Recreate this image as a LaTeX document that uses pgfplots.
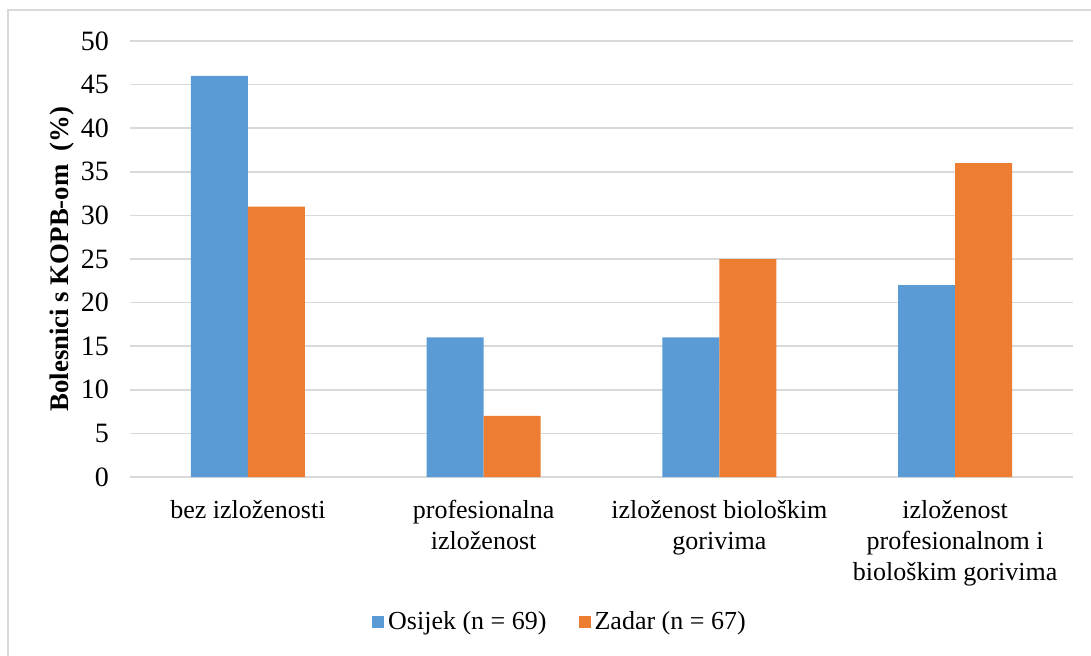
\documentclass[border=0pt]{standalone}
\usepackage{fontspec}
\setmainfont{Liberation Serif}
\usepackage{pgfplots}
\pgfplotsset{compat=1.18}
\definecolor{osijek}{HTML}{5B9BD5}
\definecolor{zadar}{HTML}{ED7D31}
\definecolor{gridgray}{HTML}{D9D9D9}
\begin{document}
\fontsize{13}{15.5}\selectfont
\begin{tikzpicture}
\useasboundingbox (0,0) rectangle (545.5pt,327.5pt);
\begin{scope}
\clip (0,0) rectangle (545.5pt,327.5pt);
\draw[gridgray, line width=0.8pt] (4pt,-10pt) |- (560pt,322.5pt);
\end{scope}
\begin{axis}[
    at={(65pt,89pt)}, anchor=south west,
    scale only axis,
    width=471.5pt, height=218pt,
    ybar=0pt,
    bar width=28.5pt,
    xmin=-0.5, xmax=3.5,
    ymin=0, ymax=50,
    ytick={0,5,...,50},
    xtick=data,
    xticklabels={bez izloženosti, profesionalna\\izloženost, izloženost biološkim\\gorivima, izloženost\\profesionalnom i\\biološkim gorivima},
    xticklabel style={align=center, anchor=north, yshift=-7pt},
    yticklabel style={anchor=east, xshift=-6pt, font=\fontsize{14}{16}\selectfont},
    major tick length=0pt,
    ymajorgrids,
    grid style={gridgray, line width=0.8pt},
    axis x line*=bottom,
    axis y line*=left,
    y axis line style={draw=none},
    x axis line style={gridgray, line width=0.8pt},
    /pgf/number format/assume math mode=true,
    ylabel={\textbf{Bolesnici s KOPB-om\ \ (\%)}},
    every axis y label/.style={at={(axis description cs:0,0.5)}, xshift=-34pt, rotate=90, anchor=center, font=\fontsize{13.4}{16}\selectfont},
    legend style={at={(axis description cs:0.457,-0.333)}, anchor=center, draw=none, legend columns=2, /tikz/every even column/.append style={column sep=14pt}},
    legend image code/.code={\fill[#1] (-1pt,-3pt) rectangle (5pt,3pt);},
]
\addplot[fill=osijek, draw=none] coordinates {(0,46) (1,16) (2,16) (3,22)};
\addplot[fill=zadar, draw=none] coordinates {(0,31) (1,7) (2,25) (3,36)};
\legend{Osijek (n = 69), Zadar (n = 67)}
\end{axis}
\end{tikzpicture}
\end{document}
